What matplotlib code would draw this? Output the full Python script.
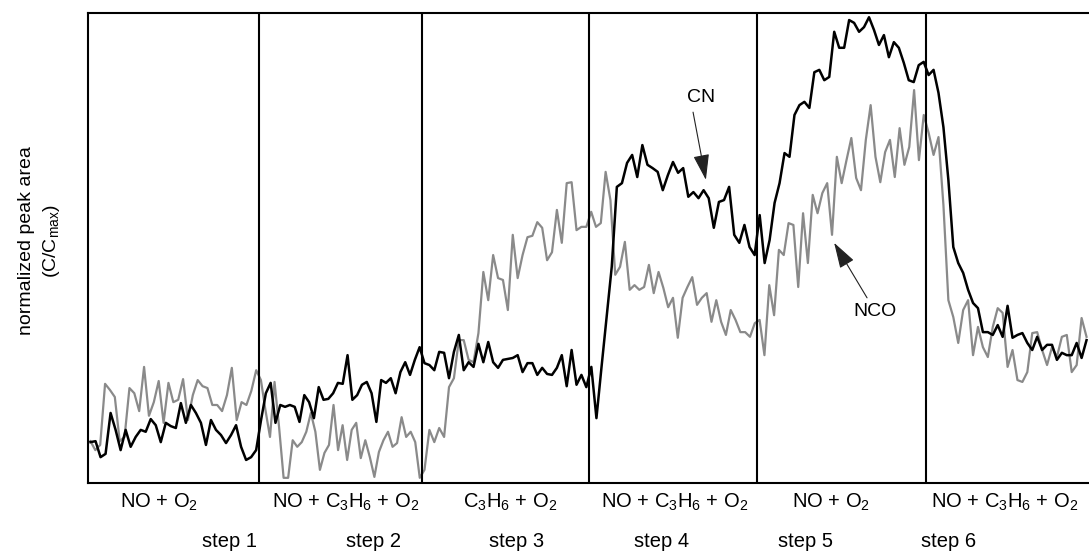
import numpy as np
import matplotlib.pyplot as plt

plt.rcParams['font.family'] = ['Liberation Sans', 'DejaVu Sans']
plt.rcParams['mathtext.fontset'] = 'custom'
plt.rcParams['mathtext.rm'] = 'Liberation Sans'
plt.rcParams['mathtext.it'] = 'Liberation Sans:italic'
plt.rcParams['mathtext.default'] = 'regular'

# feed switching times (min) - start, 5 switches, end of record
step_edges = [0, 30.6, 59.9, 89.8, 120, 150.3, 179.5]
feeds = ["NO + O$_2$", "NO + C$_3$H$_6$ + O$_2$", "C$_3$H$_6$ + O$_2$",
         "NO + C$_3$H$_6$ + O$_2$", "NO + O$_2$", "NO + C$_3$H$_6$ + O$_2$"]
step_names = ["step 1", "step 2", "step 3", "step 4", "step 5", "step 6"]

# normalized peak area C/Cmax, one list per step
cn_steps = [
    [.087, .089, .055, .062, .149, .113, .070, .113, .077, .098, .113, .109, .136, .123, .087, .128, .121,
     .117, .170, .128, .166, .149, .128, .081, .134, .113, .102, .085, .102, .123, .077, .049, .055, .070],
    [.134, .191, .213, .128, .166, .162, .166, .162, .130, .187, .172, .138, .204, .177, .179, .191, .213,
     .211, .272, .177, .187, .209, .215, .191, .130, .219, .213, .223, .191, .236, .257, .230, .262, .289],
    [.255, .251, .240, .279, .277, .223, .279, .315, .240, .257, .247, .296, .257, .300, .257, .245, .262,
     .264, .266, .272, .236, .255, .255, .230, .245, .232, .230, .245, .272, .206, .283, .209, .230, .204],
    [.247, .138, .247, .353, .460, .630, .638, .681, .698, .651, .719, .677, .670, .662, .623, .655, .683,
     .660, .670, .609, .619, .606, .623, .606, .543, .598, .602, .630, .528, .511, .549, .502, .485],
    [.570, .468, .517, .596, .638, .702, .694, .783, .804, .811, .798, .874, .879, .857, .864, .960, .926,
     .926, .985, .979, .960, .970, .991, .964, .932, .953, .906, .938, .926, .894, .857, .853, .889, .896],
    [.868, .879, .830, .757, .645, .502, .468, .447, .411, .383, .372, .321, .321, .315, .336, .311, .377,
     .309, .315, .319, .298, .283, .311, .283, .294, .294, .262, .277, .272, .272, .298, .266, .304],
]
nco_steps = [
    [.089, .070, .081, .211, .198, .183, .089, .098, .202, .191, .153, .247, .143, .172, .217, .128, .213, .172,
     .177, .221, .134, .187, .219, .206, .202, .166, .166, .153, .187, .245, .134, .172, .166, .196, .240],
    [.219, .155, .098, .215, .119, .011, .011, .091, .077, .087, .109, .149, .109, .028, .064, .081, .166, .070,
     .123, .049, .113, .128, .053, .091, .055, .013, .066, .091, .109, .077, .085, .140, .098, .109, .087, .011],
    [.028, .113, .087, .117, .098, .204, .223, .304, .304, .262, .257, .319, .449, .389, .485, .436, .432,
     .368, .528, .436, .485, .523, .526, .555, .543, .474, .491, .581, .511, .638, .640, .538, .545, .545],
    [.577, .545, .553, .662, .602, .443, .460, .513, .411, .421, .411, .417, .464, .404, .449, .415, .374, .394,
     .309, .394, .417, .438, .379, .394, .404, .343, .389, .343, .315, .368, .347, .321, .321, .311, .340],
    [.347, .272, .421, .357, .496, .485, .553, .549, .417, .574, .468, .613, .574, .617, .638, .528, .694, .638,
     .687, .734, .649, .623, .730, .804, .694, .640, .704, .730, .651, .755, .677, .715, .836, .687, .783],
    [.745, .698, .736, .591, .389, .353, .298, .368, .389, .272, .332, .289, .268, .332, .372, .362, .247,
     .283, .219, .215, .236, .319, .321, .283, .251, .289, .268, .311, .315, .236, .251, .351, .311],
]


def spread_over_steps(steps):
    # spectra are evenly spaced inside each step
    t, y = [], []
    for k, vals in enumerate(steps):
        a, b = step_edges[k], step_edges[k + 1]
        n = len(vals)
        t.extend(a + (b - a) * (np.arange(n) + 0.5) / n)
        y.extend(vals)
    return np.array(t), np.array(y)


t_cn, cn = spread_over_steps(cn_steps)
t_nco, nco = spread_over_steps(nco_steps)

W, H = 1089, 553
fig = plt.figure(figsize=(W / 100, H / 100), dpi=100)
ax = fig.add_axes([88 / W, 70 / H, 1 - 88 / W, 470 / H])

ax.plot(t_nco, nco, color='#8a8a8a', lw=1.6)
ax.plot(t_cn, cn, color='black', lw=1.8)
for x in step_edges[1:-1]:
    ax.axvline(x, color='black', lw=1.5)

ax.set_xlim(step_edges[0], step_edges[-1])
ax.set_ylim(0, 1)
ax.set_xticks([])
ax.set_yticks([])
for side in ['left', 'top', 'bottom']:
    ax.spines[side].set_linewidth(1.5)
ax.spines['right'].set_visible(False)

# labels for the two species
ax.text(110.0, 0.821, "CN", fontsize=14, ha='center', va='center')
ax.annotate("", xy=(110.8, 0.645), xytext=(108.5, 0.789),
            arrowprops=dict(arrowstyle='-|>,head_length=0.8,head_width=0.25', color='#222222',
                            lw=0.8, mutation_scale=20, shrinkA=0, shrinkB=0))
ax.text(141.1, 0.364, "NCO", fontsize=14, ha='center', va='center')
ax.annotate("", xy=(133.8, 0.511), xytext=(139.7, 0.394),
            arrowprops=dict(arrowstyle='-|>,head_length=0.8,head_width=0.25', color='#222222',
                            lw=0.8, mutation_scale=20, shrinkA=0, shrinkB=0))

# feed composition and step labels under the axes
feed_x = [159, 346, 510, 675, 831, 1005]
step_x = [229, 374, 517, 662, 805, 949]
for fx, txt in zip(feed_x, feeds):
    fig.text(fx / W, 1 - 508 / H, txt, fontsize=14.5, ha='center', va='baseline')
for sx, txt in zip(step_x, step_names):
    fig.text(sx / W, 1 - 547 / H, txt, fontsize=14.5, ha='center', va='baseline')

fig.text(27 / W, 1 - 241 / H, "normalized peak area", fontsize=14, rotation=90,
         ha='center', va='center')
fig.text(52 / W, 1 - 241 / H, "(C/C$_{max}$)", fontsize=14, rotation=90,
         ha='center', va='center')

fig.savefig("out.png", dpi=100)
